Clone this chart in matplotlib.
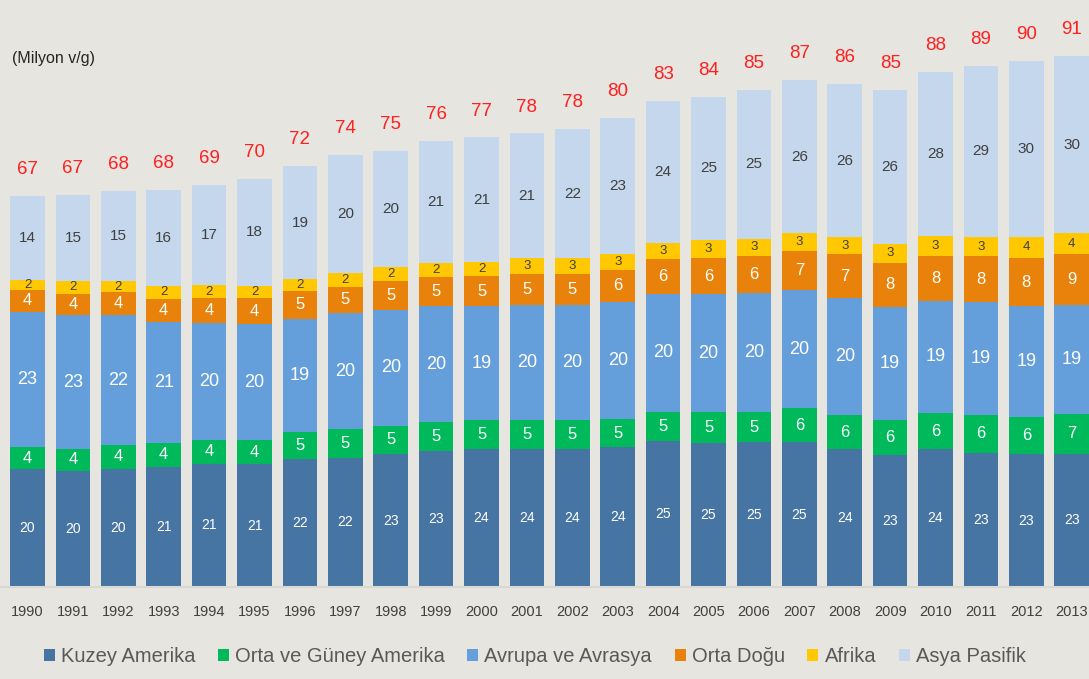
import numpy as np
import matplotlib
matplotlib.use('Agg')
import matplotlib.pyplot as plt

# Data (Milyon v/g)
years = [str(y) for y in range(1990, 2014)]
kuzey = [20.2, 19.9, 20.2, 20.6, 21.1, 21.0, 21.9, 22.1, 22.7, 23.3, 23.6, 23.6,
         23.6, 23.9, 24.9, 24.7, 24.8, 24.8, 23.6, 22.6, 23.6, 23.0, 22.7, 22.8]
orta_guney = [3.7, 3.7, 4.1, 4.1, 4.1, 4.1, 4.6, 4.9, 4.9, 4.9, 5.0, 5.0,
              5.0, 4.8, 5.0, 5.2, 5.1, 5.8, 5.8, 5.9, 6.1, 6.4, 6.4, 6.8]
avrupa = [23.2, 22.9, 22.2, 20.7, 19.9, 19.9, 19.4, 19.8, 19.8, 19.8, 19.4, 19.7,
          19.6, 20.0, 20.3, 20.2, 20.4, 20.2, 20.1, 19.4, 19.3, 19.3, 18.9, 18.7]
orta_dogu = [3.7, 3.7, 4.0, 3.9, 4.4, 4.4, 4.7, 4.6, 4.9, 5.0, 5.2, 5.3,
             5.4, 5.6, 5.9, 6.1, 6.4, 6.7, 7.4, 7.6, 7.7, 7.9, 8.3, 8.6]
afrika = [1.8, 2.2, 1.8, 2.2, 2.1, 2.1, 2.1, 2.4, 2.4, 2.4, 2.4, 2.6,
          2.6, 2.7, 2.7, 3.1, 2.9, 3.0, 2.9, 3.2, 3.4, 3.3, 3.6, 3.6]
asya = [14.3, 14.6, 15.4, 16.4, 17.2, 18.3, 19.3, 20.1, 19.9, 20.9, 21.3, 21.4,
        22.2, 23.2, 24.4, 24.6, 25.4, 26.2, 26.3, 26.3, 28.0, 29.3, 30.1, 30.4]

series = [kuzey, orta_guney, avrupa, orta_dogu, afrika, asya]
names = ['Kuzey Amerika', 'Orta ve Güney Amerika', 'Avrupa ve Avrasya',
         'Orta Doğu', 'Afrika', 'Asya Pasifik']
colors = ['#4674a3', '#00b95a', '#659fdb', '#e8820a', '#ffc800', '#c4d7ec']
txt_colors = ['white', 'white', 'white', 'white', '#404040', '#404040']
txt_sizes = [10, 12, 13, 12, 9.5, 11]

bg = '#e6e5df'
plt.rcParams['font.family'] = ['Liberation Sans', 'DejaVu Sans']

fig = plt.figure(figsize=(10.89, 6.79), dpi=100, facecolor=bg)
ax = fig.add_axes([0, 92 / 679, 1, 567 / 679])
ax.set_facecolor(bg)

x = np.arange(len(years))
bottom = np.zeros(len(years))
for vals, name, col, tc, ts in zip(series, names, colors, txt_colors, txt_sizes):
    vals = np.array(vals)
    ax.bar(x, vals, width=0.76, bottom=bottom, color=col, label=name,
           edgecolor='none')
    for xi, b, v in zip(x, bottom, vals):
        ax.text(xi, b + v / 2, '{:.0f}'.format(v), ha='center', va='center',
                color=tc, fontsize=ts)
    bottom = bottom + vals

# Totals in red above the bars
for xi, t in zip(x, bottom):
    ax.annotate('{:.0f}'.format(t), (xi, t), xytext=(0, 19),
                textcoords='offset points', ha='center', va='center',
                color='#ff2020', fontsize=13.5)

ax.set_xlim(-0.606, 23.38)
ax.set_ylim(0, 97)
ax.set_yticks([])
ax.set_xticks(x)
ax.set_xticklabels(years, fontsize=10.5, color='#404040')
ax.tick_params(axis='x', length=0, pad=13)
for s in ['top', 'left', 'right']:
    ax.spines[s].set_visible(False)
ax.spines['bottom'].set_color('#d9d9d4')
ax.spines['bottom'].set_linewidth(1.5)

fig.text(12 / 1089, 1 - 58 / 679, '(Milyon v/g)', fontsize=11.5,
         color='#262626', va='center', ha='left')

fig.legend(loc='center', bbox_to_anchor=(0.491, 1 - 657 / 679), ncol=6,
           frameon=False, fontsize=14.5, handlelength=0.55, handleheight=0.55,
           handletextpad=0.3, columnspacing=1.12, labelcolor='#595959')

plt.savefig('out.png', dpi=100, facecolor=bg)
